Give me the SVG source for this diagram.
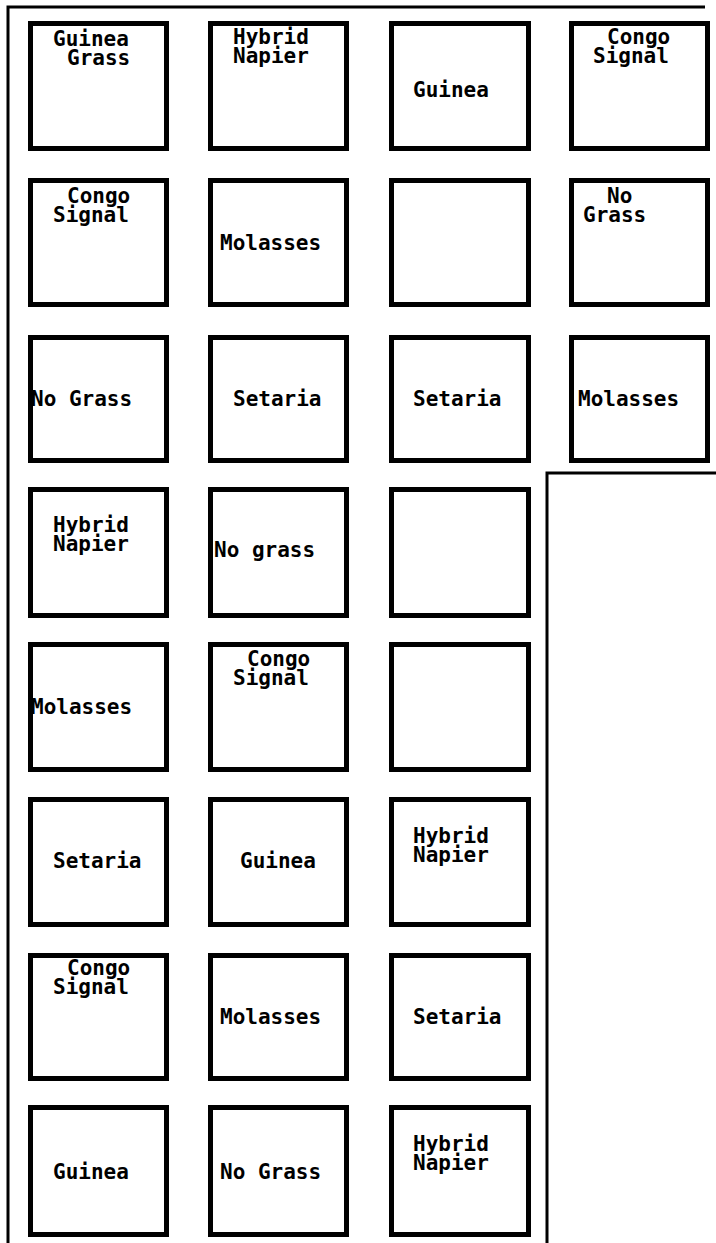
<svg xmlns="http://www.w3.org/2000/svg" width="716" height="1243" viewBox="0 0 716 1243">
<style>
.b{fill:#fff;stroke:#000;stroke-width:5}
.f{fill:none;stroke:#000;stroke-width:3}
text{font-family:"DejaVu Sans Mono","Liberation Mono",monospace;font-weight:bold;font-size:21px;fill:#000}
</style>
<rect width="716" height="1243" fill="#fff"/>
<g id="frame">
<path class="f" d="M8,1243 V7 H705"/>
<path class="f" d="M547,1243 V473 H716"/>
</g>
<g id="connectors"></g>
<g id="r1c1"><rect class="b" x="30.5" y="23.5" width="136" height="125"/><text><tspan x="53" y="46">Guinea</tspan><tspan x="67" y="65">Grass</tspan></text></g>
<g id="r1c2"><rect class="b" x="210.5" y="23.5" width="136" height="125"/><text><tspan x="233" y="44">Hybrid</tspan><tspan x="233" y="63">Napier</tspan></text></g>
<g id="r1c3"><rect class="b" x="391.5" y="23.5" width="137" height="125"/><text x="413" y="97">Guinea</text></g>
<g id="r1c4"><rect class="b" x="571.5" y="23.5" width="136" height="125"/><text><tspan x="607" y="44">Congo</tspan><tspan x="593" y="63">Signal</tspan></text></g>
<g id="r2c1"><rect class="b" x="30.5" y="180.5" width="136" height="124"/><text><tspan x="67" y="203">Congo</tspan><tspan x="53" y="222">Signal</tspan></text></g>
<g id="r2c2"><rect class="b" x="210.5" y="180.5" width="136" height="124"/><text x="220" y="250">Molasses</text></g>
<g id="r2c3"><rect class="b" x="391.5" y="180.5" width="137" height="124"/></g>
<g id="r2c4"><rect class="b" x="571.5" y="180.5" width="136" height="124"/><text><tspan x="607" y="203">No</tspan><tspan x="583" y="222">Grass</tspan></text></g>
<g id="r3c1"><rect class="b" x="30.5" y="337.5" width="136" height="123"/><text x="31" y="406">No Grass</text></g>
<g id="r3c2"><rect class="b" x="210.5" y="337.5" width="136" height="123"/><text x="233" y="406">Setaria</text></g>
<g id="r3c3"><rect class="b" x="391.5" y="337.5" width="137" height="123"/><text x="413" y="406">Setaria</text></g>
<g id="r3c4"><rect class="b" x="571.5" y="337.5" width="136" height="123"/><text x="578" y="406">Molasses</text></g>
<g id="r4c1"><rect class="b" x="30.5" y="489.5" width="136" height="126"/><text><tspan x="53" y="532">Hybrid</tspan><tspan x="53" y="551">Napier</tspan></text></g>
<g id="r4c2"><rect class="b" x="210.5" y="489.5" width="136" height="126"/><text x="214" y="557">No grass</text></g>
<g id="r4c3"><rect class="b" x="391.5" y="489.5" width="137" height="126"/></g>
<g id="r5c1"><rect class="b" x="30.5" y="644.5" width="136" height="125"/><text x="31" y="714">Molasses</text></g>
<g id="r5c2"><rect class="b" x="210.5" y="644.5" width="136" height="125"/><text><tspan x="247" y="666">Congo</tspan><tspan x="233" y="685">Signal</tspan></text></g>
<g id="r5c3"><rect class="b" x="391.5" y="644.5" width="137" height="125"/></g>
<g id="r6c1"><rect class="b" x="30.5" y="799.5" width="136" height="125"/><text x="53" y="868">Setaria</text></g>
<g id="r6c2"><rect class="b" x="210.5" y="799.5" width="136" height="125"/><text x="240" y="868">Guinea</text></g>
<g id="r6c3"><rect class="b" x="391.5" y="799.5" width="137" height="125"/><text><tspan x="413" y="843">Hybrid</tspan><tspan x="413" y="862">Napier</tspan></text></g>
<g id="r7c1"><rect class="b" x="30.5" y="955.5" width="136" height="123"/><text><tspan x="67" y="975">Congo</tspan><tspan x="53" y="994">Signal</tspan></text></g>
<g id="r7c2"><rect class="b" x="210.5" y="955.5" width="136" height="123"/><text x="220" y="1024">Molasses</text></g>
<g id="r7c3"><rect class="b" x="391.5" y="955.5" width="137" height="123"/><text x="413" y="1024">Setaria</text></g>
<g id="r8c1"><rect class="b" x="30.5" y="1107.5" width="136" height="127"/><text x="53" y="1179">Guinea</text></g>
<g id="r8c2"><rect class="b" x="210.5" y="1107.5" width="136" height="127"/><text x="220" y="1179">No Grass</text></g>
<g id="r8c3"><rect class="b" x="391.5" y="1107.5" width="137" height="127"/><text><tspan x="413" y="1151">Hybrid</tspan><tspan x="413" y="1170">Napier</tspan></text></g>
</svg>
